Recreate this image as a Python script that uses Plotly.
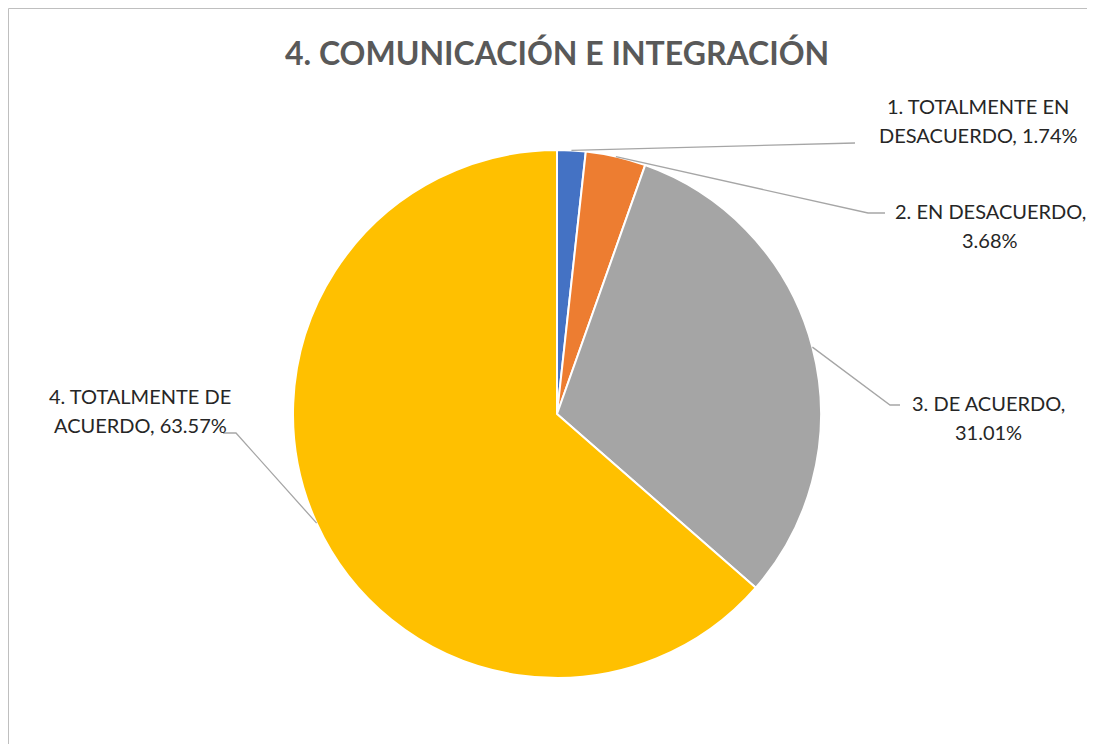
import math
import plotly.graph_objects as go

# the page body has an 8px margin, so the figure is drawn that much smaller
OFF = 8
W, H = 1095 - OFF, 744 - OFF

categories = ["1. TOTALMENTE EN DESACUERDO", "2. EN DESACUERDO",
              "3. DE ACUERDO", "4. TOTALMENTE DE ACUERDO"]
percents = [1.74, 3.68, 31.01, 63.57]
label_lines = [["1. TOTALMENTE EN", "DESACUERDO, 1.74%"],
               ["2. EN DESACUERDO,", "3.68%"],
               ["3. DE ACUERDO,", "31.01%"],
               ["4. TOTALMENTE DE", "ACUERDO, 63.57%"]]
colors = ["#4472C4", "#ED7D31", "#A5A5A5", "#FFC000"]

# pie geometry in screen pixels
cx, cy, r = 557, 414, 264
# label placement (centre of first text line) and leader line elbow/end
label_pos = [(978, 106), (990, 211), (988, 403), (140, 396)]
line_gap = 29
elbows = [((855, 143), (855, 143)), ((868, 213), (885, 213)),
          ((890, 405), (900, 405)), ((236, 433), (223, 433))]


def px(x):
    return (x - OFF) / W


def py(y):
    return 1 - (y - OFF) / H


fig = go.Figure(go.Pie(
    labels=categories, values=percents, sort=False, direction="clockwise",
    rotation=0, textinfo="none", hoverinfo="label+percent",
    marker=dict(colors=colors, line=dict(color="white", width=2)),
    domain=dict(x=[px(cx - r), px(cx + r)], y=[py(cy + r), py(cy - r)]),
    showlegend=False,
))

shapes = []
total = sum(percents)
cum = 0
for i, v in enumerate(percents):
    mid = (cum + v / 2) / total * 2 * math.pi
    cum += v
    sx = cx + r * math.sin(mid)
    sy = cy - r * math.cos(mid)
    (ex, ey), (hx, hy) = elbows[i]
    path = f"M {px(sx)},{py(sy)} L {px(ex)},{py(ey)} L {px(hx)},{py(hy)}"
    shapes.append(dict(type="path", xref="paper", yref="paper", path=path,
                       line=dict(color="#A6A6A6", width=1.3)))

# chart frame
shapes.append(dict(type="line", xref="paper", yref="paper",
                   x0=px(8.5), y0=py(8.5), x1=1, y1=py(8.5),
                   line=dict(color="#BFBFBF", width=1)))
shapes.append(dict(type="line", xref="paper", yref="paper",
                   x0=px(8.5), y0=py(8.5), x1=px(8.5), y1=0,
                   line=dict(color="#BFBFBF", width=1)))

annotations = []
for (lx, ly), lines in zip(label_pos, label_lines):
    for k, t in enumerate(lines):
        annotations.append(dict(x=px(lx), y=py(ly + k * line_gap),
                                xref="paper", yref="paper",
                                text=t, showarrow=False,
                                xanchor="center", yanchor="middle",
                                font=dict(family="Lato", size=20,
                                          color="#262626")))

annotations.append(dict(x=px(557), y=py(53), xref="paper", yref="paper",
                        text="<b>4. COMUNICACIÓN E INTEGRACIÓN</b>",
                        showarrow=False, xanchor="center", yanchor="middle",
                        font=dict(family="Lato", size=32, color="#595959")))

fig.update_layout(
    width=W, height=H,
    margin=dict(l=0, r=0, t=0, b=0),
    paper_bgcolor="white",
    shapes=shapes,
    annotations=annotations,
)

fig.write_html("out.html")
